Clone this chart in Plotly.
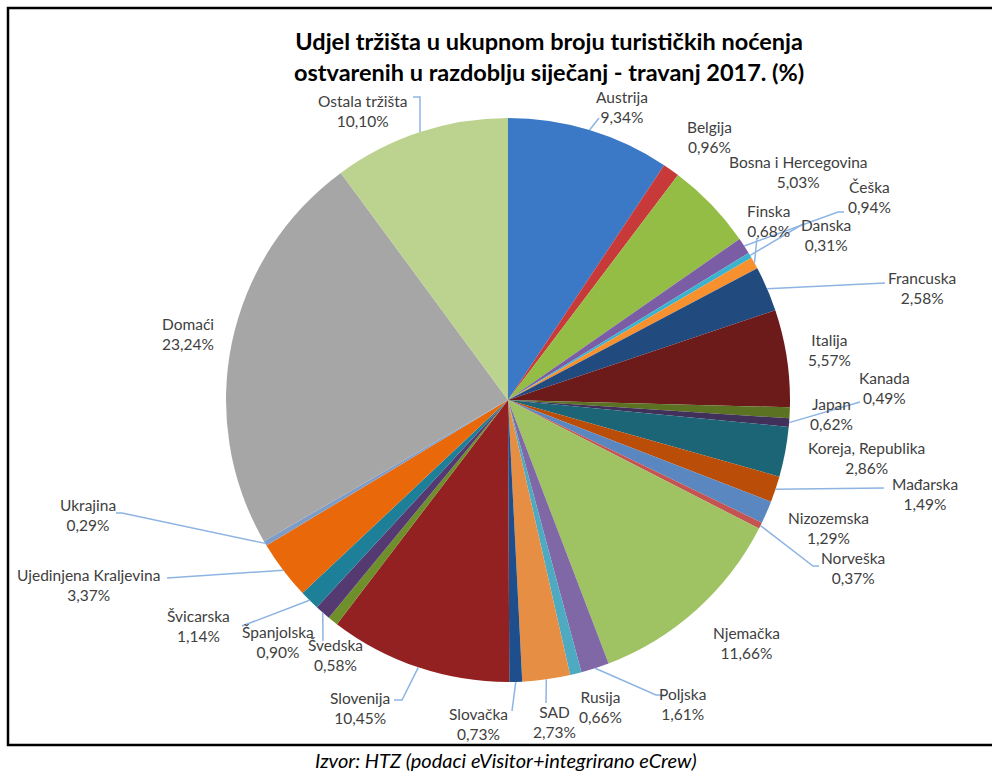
import math
import plotly.graph_objects as go

# ---------------- data ----------------
markets = ["Austrija", "Belgija", "Bosna i Hercegovina", "Češka", "Danska", "Finska",
           "Francuska", "Italija", "Japan", "Kanada", "Koreja, Republika", "Mađarska",
           "Nizozemska", "Norveška", "Njemačka", "Poljska", "Rusija", "SAD", "Slovačka",
           "Slovenija", "Švedska", "Španjolska", "Švicarska", "Ujedinjena Kraljevina",
           "Ukrajina", "Domaći", "Ostala tržišta"]
shares = [9.34, 0.96, 5.03, 0.94, 0.31, 0.68, 2.58, 5.57, 0.62, 0.49, 2.86, 1.49,
          1.29, 0.37, 11.66, 1.61, 0.66, 2.73, 0.73, 10.45, 0.58, 0.90, 1.14, 3.37,
          0.29, 23.24, 10.10]

title_lines = ["Udjel tržišta u ukupnom broju turističkih noćenja",
               "ostvarenih u razdoblju siječanj - travanj 2017. (%)"]
source_text = "Izvor: HTZ (podaci eVisitor+integrirano eCrew)"

# ---------------- styles ----------------
colors = ["#3B79C6", "#C8393A", "#93BD45", "#7B5DA6", "#3BB3CF", "#F79130",
          "#214B7F", "#6D1A1A", "#5B7222", "#40305A", "#1B6576", "#BA4D08",
          "#5B87C0", "#C45451", "#9FC263", "#8067A5", "#4EAAC1", "#E68F44",
          "#1F4E8D", "#932121", "#6F8F2A", "#553A72", "#1E7F98", "#E8680A",
          "#7E9CC8", "#A6A6A6", "#BCD38F"]

W, H = 992, 771
CX, CY, R = 508, 400, 282

# label block centres (pixels)
label_pos = [(622, 107), (709, 137), (798, 172), (869, 197), (826, 235), (768, 221),
             (922, 288), (829, 350), (831, 414), (884, 388), (866, 458), (925, 494),
             (828, 528), (853, 568), (746, 643), (682, 704), (600, 707), (554, 722),
             (478, 724), (360, 708), (335, 655), (278, 642), (198, 626), (88, 585),
             (88, 515), (188, 334), (362, 111)]
# leader line anchor near the label (None = no leader)
leader_anchor = [(599, 118), None, None, (838, 212), (803, 224), (757, 238),
                 (885, 283), None, None, (860, 402), None, (884, 488),
                 None, (813, 566), None, (656, 695), None, (546, 703),
                 (512, 711), (402, 700), None, (323, 641), (242, 626), (167, 578),
                 (122, 513), None, (420, 97)]
leader_stub = [0, 0, 0, 6, 0, 0, 0, 0, 0, 0, 0, 0, 0, 6, 0, 8, 0, 0, 0, -8, 0, 0, 0, 0, -6, 0, -7]


def px2paper(x, y):
    return x / W, 1 - y / H


fig = go.Figure()
fig.add_trace(go.Pie(
    labels=markets, values=shares, sort=False, direction="clockwise", rotation=0,
    marker=dict(colors=colors, line=dict(width=0)),
    textinfo="none", hoverinfo="label+percent", showlegend=False,
    domain=dict(x=[(CX - R) / W, (CX + R) / W], y=[1 - (CY + R) / H, 1 - (CY - R) / H]),
))

total = sum(shares)
cum = 0.0
shapes = []
annotations = []
LABEL_FONT = dict(family="Lato, Liberation Sans, sans-serif", size=15.5, color="#404040")
for i, (name, v) in enumerate(zip(markets, shares)):
    mid = (cum + v / 2) / total * 2 * math.pi
    cum += v
    ex = CX + R * math.sin(mid)
    ey = CY - R * math.cos(mid)
    lx, ly = label_pos[i]
    txt = f"{name}<br>{v:.2f}".replace(".", ",") + "%"
    ax, ay = px2paper(lx, ly)
    annotations.append(dict(x=ax, y=ay, xref="paper", yref="paper", text=txt,
                            xanchor="center", yanchor="middle",
                            showarrow=False, align="center", font=LABEL_FONT))
    anc = leader_anchor[i]
    if anc is not None:
        pts = []
        if leader_stub[i]:
            pts.append(px2paper(anc[0] + leader_stub[i], anc[1]))
        pts.append(px2paper(*anc))
        pts.append(px2paper(ex, ey))
        path = "M " + " L ".join(f"{p[0]:.5f},{p[1]:.5f}" for p in pts)
        shapes.append(dict(type="path", path=path, xref="paper", yref="paper",
                           line=dict(color="#8EB4E3", width=1.5)))

# outer border
x0, y0 = px2paper(8, 8)
x1, y1 = px2paper(1000, 745)
shapes.append(dict(type="rect", xref="paper", yref="paper", x0=x0, y0=y1, x1=x1, y1=y0,
                   line=dict(color="black", width=2.5), fillcolor="rgba(0,0,0,0)"))

# title
tx, ty = px2paper(549, 57)
annotations.append(dict(x=tx, y=ty, xref="paper", yref="paper",
                        xanchor="center", yanchor="middle",
                        text="<b>" + "<br>".join(title_lines) + "</b>", showarrow=False,
                        align="center",
                        font=dict(family="Lato, Liberation Sans, sans-serif", size=23.5, color="black")))
# source
sx, sy = px2paper(506, 760)
annotations.append(dict(x=sx, y=sy, xref="paper", yref="paper",
                        xanchor="center", yanchor="middle",
                        text="<i>" + source_text + "</i>", showarrow=False,
                        font=dict(family="Lato, Liberation Sans, sans-serif", size=20, color="black")))

fig.update_layout(width=W, height=H, margin=dict(l=0, r=0, t=0, b=0),
                  paper_bgcolor="white", plot_bgcolor="white",
                  shapes=shapes, annotations=annotations)

fig.write_html("out.html", config={"displayModeBar": False},
               post_script="document.body.style.margin='0';document.body.style.overflow='hidden';")
